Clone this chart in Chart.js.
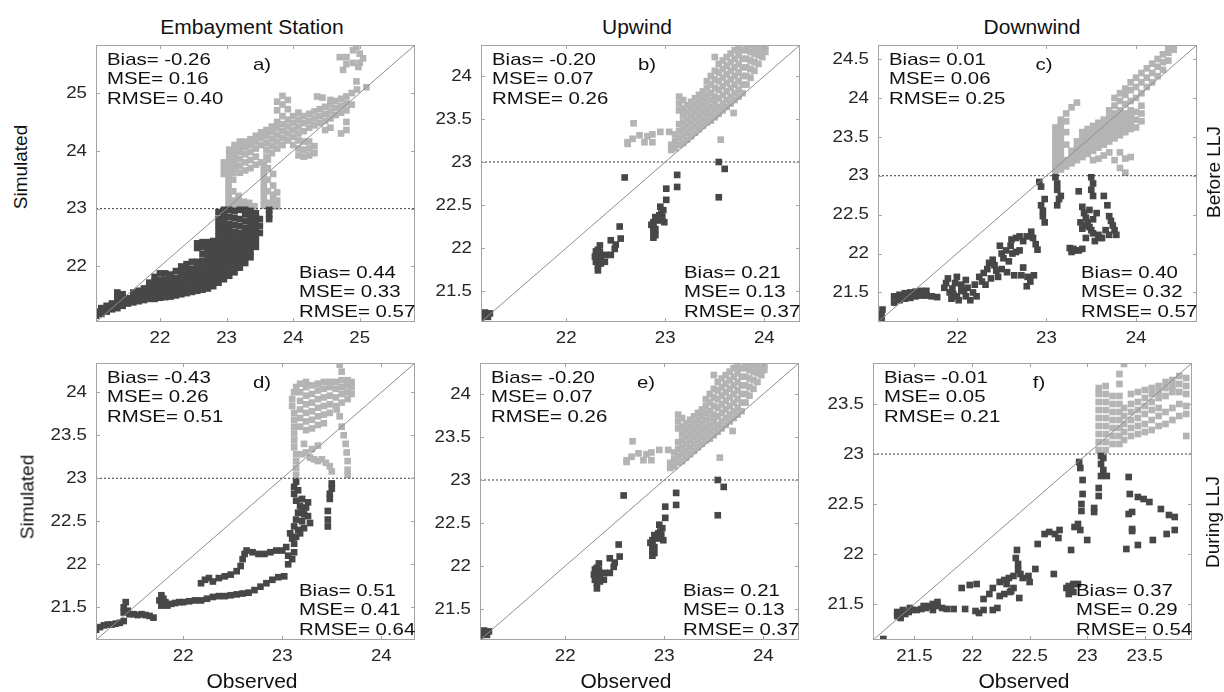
<!DOCTYPE html>
<html>
<head>
<meta charset="utf-8">
<script src="https://cdn.jsdelivr.net/npm/chart.js@4.4.1/dist/chart.umd.min.js"></script>
<style>
  body { margin: 0; background: #fff; }
  #figure { position: relative; width: 1224px; height: 692px; background: #fff; overflow: hidden;
            font-family: "Liberation Sans", Arial, sans-serif; color: #111; }
  #figure canvas { position: absolute; }
  .lbl { position: absolute; white-space: nowrap; transform: translate(-50%, -50%); line-height: 1; }
  .rot { transform: translate(-50%, -50%) rotate(-90deg); }
</style>
</head>
<body>
<div id="figure"></div>
<script>
// ---- labels ----
const columnTitles = ['Embayment Station', 'Upwind', 'Downwind'];
const rowTitles = ['Before LLJ', 'During LLJ'];
const yTitle = 'Simulated';
const xTitle = 'Observed';
const panelLetters = ['a)', 'b)', 'c)', 'd)', 'e)', 'f)'];

// ---- axes (same range on x and y, 1:1 line runs corner to corner) ----
const axisRanges = [[21.04, 25.83], [21.14, 24.36], [21.12, 24.68], [21.12, 24.34], [21.14, 24.36], [21.14, 23.91]];
const xTickValues = [[22, 23, 24, 25], [22, 23, 24], [22, 23, 24], [22, 23, 24], [22, 23, 24], [21.5, 22, 22.5, 23, 23.5]];
const yTickValues = [
  [22, 23, 24, 25],
  [21.5, 22, 22.5, 23, 23.5, 24],
  [21.5, 22, 22.5, 23, 23.5, 24, 24.5],
  [21.5, 22, 22.5, 23, 23.5, 24],
  [21.5, 22, 22.5, 23, 23.5, 24],
  [21.5, 22, 22.5, 23, 23.5]
];
const threshold = 23;

// ---- error statistics (above / below threshold) ----
const statsAbove = [
  ['Bias= -0.26', 'MSE= 0.16', 'RMSE= 0.40'],
  ['Bias= -0.20', 'MSE= 0.07', 'RMSE= 0.26'],
  ['Bias= 0.01', 'MSE= 0.06', 'RMSE= 0.25'],
  ['Bias= -0.43', 'MSE= 0.26', 'RMSE= 0.51'],
  ['Bias= -0.20', 'MSE= 0.07', 'RMSE= 0.26'],
  ['Bias= -0.01', 'MSE= 0.05', 'RMSE= 0.21']
];
const statsBelow = [
  ['Bias= 0.44', 'MSE= 0.33', 'RMSE= 0.57'],
  ['Bias= 0.21', 'MSE= 0.13', 'RMSE= 0.37'],
  ['Bias= 0.40', 'MSE= 0.32', 'RMSE= 0.57'],
  ['Bias= 0.51', 'MSE= 0.41', 'RMSE= 0.64'],
  ['Bias= 0.21', 'MSE= 0.13', 'RMSE= 0.37'],
  ['Bias= 0.37', 'MSE= 0.29', 'RMSE= 0.54']
];

// ---- observed / simulated pairs ----
const embayBeforeDark = [
  [21.04,21.15],[21.04,21.22],[21.12,21.18],[21.12,21.28],[21.20,21.22],[21.20,21.32],[21.28,21.26],[21.28,21.36],
  [21.36,21.28],[21.36,21.38],[21.36,21.48],[21.36,21.55],[21.44,21.32],[21.44,21.42],[21.44,21.52],
  [21.52,21.36],[21.52,21.45],[21.60,21.38],[21.60,21.47],[21.60,21.55],[21.68,21.40],[21.68,21.50],[21.68,21.58],
  [21.76,21.42],[21.76,21.52],[21.76,21.62],[21.84,21.44],[21.84,21.54],[21.84,21.64],[21.84,21.72],
  [21.92,21.44],[21.92,21.54],[21.92,21.64],[21.92,21.74],[21.92,21.82],
  [22.00,21.46],[22.00,21.56],[22.00,21.66],[22.00,21.76],[22.00,21.88],
  [22.08,21.47],[22.08,21.57],[22.08,21.67],[22.08,21.77],[22.08,21.88],
  [22.16,21.48],[22.16,21.58],[22.16,21.68],[22.16,21.78],[22.16,21.86],
  [22.24,21.50],[22.24,21.60],[22.24,21.70],[22.24,21.80],[22.24,21.92],
  [22.32,21.52],[22.32,21.62],[22.32,21.72],[22.32,21.82],[22.32,21.92],[22.32,22.00],
  [22.40,21.54],[22.40,21.64],[22.40,21.74],[22.40,21.84],[22.40,21.94],[22.40,22.04],
  [22.48,21.56],[22.48,21.66],[22.48,21.76],[22.48,21.86],[22.48,21.96],[22.48,22.08],
  [22.56,21.58],[22.56,21.68],[22.56,21.78],[22.56,21.88],[22.56,21.98],[22.56,22.08],[22.56,22.32],[22.56,22.40],
  [22.64,21.60],[22.64,21.70],[22.64,21.80],[22.64,21.90],[22.64,22.00],[22.64,22.10],[22.64,22.22],[22.64,22.34],[22.64,22.42],
  [22.72,21.62],[22.72,21.72],[22.72,21.82],[22.72,21.92],[22.72,22.02],[22.72,22.12],[22.72,22.22],[22.72,22.32],[22.72,22.42],
  [22.80,21.66],[22.80,21.76],[22.80,21.86],[22.80,21.96],[22.80,22.06],[22.80,22.16],[22.80,22.26],[22.80,22.36],[22.80,22.44],
  [22.88,21.72],[22.88,21.82],[22.88,21.92],[22.88,22.02],[22.88,22.12],[22.88,22.22],[22.88,22.32],[22.88,22.42],[22.88,22.52],[22.88,22.62],[22.88,22.72],[22.88,22.82],[22.88,22.94],
  [22.96,21.78],[22.96,21.88],[22.96,21.98],[22.96,22.08],[22.96,22.18],[22.96,22.28],[22.96,22.38],[22.96,22.48],[22.96,22.58],[22.96,22.68],[22.96,22.78],[22.96,22.88],[22.96,22.98],
  [23.04,21.84],[23.04,21.94],[23.04,22.04],[23.04,22.14],[23.04,22.24],[23.04,22.34],[23.04,22.44],[23.04,22.54],[23.04,22.64],[23.04,22.74],[23.04,22.86],[23.04,22.98],
  [23.12,21.90],[23.12,22.00],[23.12,22.10],[23.12,22.20],[23.12,22.30],[23.12,22.40],[23.12,22.50],[23.12,22.60],[23.12,22.72],[23.12,22.84],[23.12,22.96],
  [23.20,21.98],[23.20,22.08],[23.20,22.18],[23.20,22.28],[23.20,22.38],[23.20,22.48],[23.20,22.58],[23.20,22.70],[23.20,22.82],[23.20,22.98],
  [23.28,22.06],[23.28,22.16],[23.28,22.26],[23.28,22.36],[23.28,22.46],[23.28,22.56],[23.28,22.66],[23.28,22.78],[23.28,22.90],[23.28,22.98],
  [23.36,22.16],[23.36,22.26],[23.36,22.36],[23.36,22.46],[23.36,22.56],[23.36,22.66],[23.36,22.76],[23.36,22.86],[23.36,22.96],
  [23.44,22.34],[23.44,22.44],[23.44,22.54],[23.44,22.64],[23.44,22.74],[23.44,22.84],[23.44,22.92],
  [23.50,22.58],[23.50,22.70],[23.50,22.82],[23.64,22.82],[23.64,22.90],[23.64,22.98]
];
const embayBeforeLight = [
  [23.03,23.05],[23.03,23.15],[23.03,23.25],[23.03,23.35],[23.03,23.45],[23.03,23.55],[23.03,23.65],
  [23.10,23.04],[23.10,23.14],[23.10,23.30],[23.10,23.50],[23.10,23.62],[23.18,23.04],[23.18,23.12],[23.18,23.22],
  [23.26,23.04],[23.26,23.12],[23.34,23.04],[23.34,23.10],[23.42,23.04],
  [23.56,23.05],[23.56,23.15],[23.56,23.25],[23.56,23.35],[23.56,23.45],[23.56,23.55],[23.56,23.65],[23.56,23.75],
  [23.62,23.10],[23.62,23.30],[23.62,23.50],[23.62,23.70],[23.62,23.85],
  [23.70,23.04],[23.70,23.14],[23.70,23.24],[23.70,23.40],[23.70,23.60],[23.76,23.04],[23.76,23.14],[23.76,23.28],
  [22.96,23.60],[22.96,23.70],[22.96,23.80],[23.04,23.72],[23.04,23.82],[23.04,23.92],[23.04,24.02],
  [23.12,23.70],[23.12,23.80],[23.12,23.90],[23.12,24.00],[23.12,24.10],
  [23.20,23.62],[23.20,23.74],[23.20,23.86],[23.20,23.98],[23.20,24.08],[23.20,24.16],
  [23.28,23.66],[23.28,23.80],[23.28,23.94],[23.28,24.06],[23.28,24.16],
  [23.36,23.70],[23.36,23.84],[23.36,23.98],[23.36,24.10],[23.36,24.20],
  [23.44,23.76],[23.44,23.90],[23.44,24.04],[23.44,24.16],[23.44,24.26],
  [23.52,23.80],[23.52,24.10],[23.52,24.22],[23.52,24.32],
  [23.60,23.90],[23.60,24.02],[23.60,24.14],[23.60,24.26],[23.60,24.36],
  [23.68,23.96],[23.68,24.08],[23.68,24.20],[23.68,24.32],[23.68,24.42],
  [23.76,24.04],[23.76,24.16],[23.76,24.28],[23.76,24.40],[23.76,24.50],[23.76,24.70],[23.76,24.85],
  [23.84,24.10],[23.84,24.22],[23.84,24.34],[23.84,24.46],[23.84,24.60],[23.84,24.80],[23.84,24.95],
  [23.92,24.18],[23.92,24.30],[23.92,24.42],[23.92,24.54],[23.92,24.72],[23.92,24.88],
  [24.00,24.10],[24.00,24.24],[24.00,24.36],[24.00,24.48],[24.00,24.60],
  [24.08,23.92],[24.08,24.04],[24.08,24.18],[24.08,24.30],[24.08,24.42],[24.08,24.54],[24.08,24.66],
  [24.16,23.90],[24.16,24.02],[24.16,24.16],[24.16,24.34],[24.16,24.48],[24.16,24.60],
  [24.24,23.92],[24.24,24.04],[24.24,24.16],[24.24,24.40],[24.24,24.52],[24.24,24.64],
  [24.32,23.96],[24.32,24.08],[24.32,24.44],[24.32,24.56],[24.32,24.68],[24.36,24.94],
  [24.40,24.48],[24.40,24.60],[24.40,24.72],[24.44,24.92],
  [24.48,24.36],[24.48,24.52],[24.48,24.64],[24.48,24.76],
  [24.56,24.40],[24.56,24.56],[24.56,24.68],[24.56,24.80],[24.56,24.88],
  [24.64,24.62],[24.64,24.74],[24.64,24.86],[24.72,24.30],[24.72,24.66],[24.72,24.78],[24.72,24.90],
  [24.80,24.36],[24.80,24.50],[24.80,24.70],[24.80,24.82],[24.80,24.94],[24.88,24.80],[24.88,25.00],
  [24.96,25.06],[25.10,25.10],
  [24.70,25.62],[24.80,25.62],[24.90,25.74],[24.95,25.80],[25.00,25.52],[25.00,25.68],[24.90,25.52],
  [24.75,25.40],[24.80,25.50],[24.98,25.45],[25.05,25.60],[24.95,25.20]
];

const upwindDark = [
  [21.14,21.19],[21.17,21.21],[21.20,21.23],[21.23,21.24],[21.16,21.23],[21.21,21.20],[21.18,21.25],
  [22.32,21.74],[22.32,21.80],[22.32,21.86],[22.32,21.92],[22.32,21.98],[22.34,22.03],[22.30,21.84],[22.30,21.96],
  [22.35,21.90],[22.35,21.82],[22.29,21.90],[22.34,21.95],
  [22.40,21.92],[22.45,21.92],[22.39,21.84],[22.45,22.09],[22.50,22.04],[22.49,21.99],[22.55,22.11],
  [22.54,22.25],[22.59,22.82],
  [22.88,22.12],[22.88,22.18],[22.88,22.24],[22.88,22.30],[22.90,22.36],[22.90,22.15],[22.90,22.22],[22.86,22.27],[22.89,22.20],
  [22.94,22.32],[22.97,22.36],[22.98,22.44],[22.96,22.40],[22.99,22.30],[22.95,22.48],[22.94,22.38],
  [23.01,22.56],[23.01,22.69],[23.12,22.85],[23.12,22.71],
  [23.54,23.00],[23.60,22.92],[23.54,22.59]
];
const upwindLight = [
  [22.62,23.21],[22.67,23.27],[22.68,23.45],[22.74,23.31],[22.79,23.23],[22.87,23.32],[22.87,23.23],
  [22.95,23.35],[23.04,23.35],[22.62,23.23],[22.82,23.30],[23.56,23.26],[23.69,23.57],
  [23.06,23.14],[23.06,23.20],[23.10,23.16],[23.10,23.24],[23.10,23.32],
  [23.14,23.20],[23.14,23.28],[23.14,23.36],[23.14,23.44],[23.14,23.60],[23.14,23.68],[23.14,23.76],
  [23.18,23.22],[23.18,23.30],[23.18,23.38],[23.18,23.46],[23.18,23.54],[23.18,23.62],[23.18,23.72],
  [23.22,23.26],[23.22,23.34],[23.22,23.42],[23.22,23.50],[23.22,23.58],[23.22,23.66],
  [23.26,23.30],[23.26,23.38],[23.26,23.46],[23.26,23.54],[23.26,23.62],[23.26,23.70],
  [23.30,23.34],[23.30,23.42],[23.30,23.50],[23.30,23.58],[23.30,23.66],[23.30,23.74],
  [23.34,23.38],[23.34,23.46],[23.34,23.54],[23.34,23.62],[23.34,23.70],[23.34,23.78],
  [23.38,23.42],[23.38,23.50],[23.38,23.58],[23.38,23.66],[23.38,23.74],[23.38,23.82],
  [23.42,23.46],[23.42,23.54],[23.42,23.62],[23.42,23.70],[23.42,23.78],[23.42,23.86],[23.42,23.94],
  [23.46,23.48],[23.46,23.56],[23.46,23.64],[23.46,23.72],[23.46,23.80],[23.46,23.90],[23.46,24.00],
  [23.50,23.52],[23.50,23.60],[23.50,23.68],[23.50,23.76],[23.50,23.86],[23.50,23.96],[23.50,24.06],[23.50,24.22],
  [23.54,23.56],[23.54,23.64],[23.54,23.74],[23.54,23.84],[23.54,23.94],[23.54,24.04],[23.54,24.14],
  [23.58,23.60],[23.58,23.68],[23.58,23.78],[23.58,23.88],[23.58,23.98],[23.58,24.08],[23.58,24.18],
  [23.62,23.64],[23.62,23.72],[23.62,23.82],[23.62,23.92],[23.62,24.02],[23.62,24.12],[23.62,24.22],
  [23.66,23.68],[23.66,23.76],[23.66,23.86],[23.66,23.96],[23.66,24.06],[23.66,24.16],[23.66,24.26],
  [23.70,23.72],[23.70,23.80],[23.70,23.90],[23.70,24.00],[23.70,24.10],[23.70,24.20],[23.70,24.30],
  [23.74,23.76],[23.74,23.84],[23.74,23.94],[23.74,24.04],[23.74,24.14],[23.74,24.24],[23.74,24.32],
  [23.78,23.80],[23.78,23.90],[23.78,24.00],[23.78,24.10],[23.78,24.20],[23.78,24.30],
  [23.82,23.90],[23.82,24.00],[23.82,24.10],[23.82,24.20],[23.82,24.30],[23.82,24.36],
  [23.86,23.98],[23.86,24.08],[23.86,24.18],[23.86,24.28],[23.86,24.36],
  [23.90,24.06],[23.90,24.16],[23.90,24.26],[23.90,24.34],[23.94,24.14],[23.94,24.24],[23.94,24.32],
  [23.98,24.22],[23.98,24.30],[24.01,24.28],[24.01,24.34]
];

const downBeforeDark = [
  [21.16,21.14],[21.16,21.22],[21.17,21.28],
  [21.30,21.37],[21.30,21.45],[21.36,21.40],[21.36,21.47],[21.42,21.42],[21.42,21.49],[21.48,21.43],[21.48,21.50],
  [21.54,21.45],[21.54,21.51],[21.60,21.46],[21.60,21.52],[21.66,21.46],[21.66,21.52],[21.72,21.45],[21.78,21.44],
  [21.88,21.62],[21.90,21.68],[21.95,21.55],[21.98,21.62],[22.00,21.45],[22.05,21.52],[22.05,21.60],[22.10,21.45],
  [22.12,21.56],[22.15,21.40],[22.18,21.50],[22.20,21.60],[22.22,21.45],[22.10,21.66],[21.92,21.50],[22.00,21.70],
  [21.86,21.56],[21.94,21.42],[22.02,21.40],[22.08,21.52],[21.96,21.48],
  [22.25,21.70],[22.30,21.75],[22.34,21.80],[22.36,21.88],[22.40,21.92],[22.42,21.85],[22.44,21.78],[22.28,21.64],
  [22.32,21.60],[22.38,21.68],[22.46,21.70],[22.48,22.10],[22.52,21.94],
  [22.50,22.00],[22.55,22.04],[22.60,22.10],[22.62,22.00],[22.66,22.02],[22.70,22.04],[22.58,21.90],[22.50,21.80],
  [22.56,21.76],[22.64,21.72],[22.72,21.72],[22.74,21.82],
  [22.61,22.18],[22.66,22.20],[22.70,22.22],[22.74,22.16],[22.78,22.22],
  [22.83,22.28],[22.85,22.20],[22.88,22.12],[22.90,22.05],
  [22.79,21.70],[22.82,21.64],[22.78,21.58],[22.86,21.72],
  [22.92,22.92],[22.94,22.86],[22.94,22.62],[22.96,22.48],[22.96,22.55],[22.98,22.40],[22.98,22.70],
  [23.10,22.98],[23.12,22.90],[23.12,22.82],[23.14,22.70],[23.12,22.62],[23.16,22.74],
  [23.26,22.07],[23.30,22.06],[23.32,22.04],[23.28,22.02],[23.36,22.04],[23.40,22.06],
  [23.36,22.80],[23.40,22.60],[23.42,22.52],[23.44,22.46],[23.46,22.40],[23.48,22.34],[23.50,22.30],[23.52,22.26],
  [23.40,22.32],[23.44,22.36],[23.52,22.44],[23.56,22.52],[23.48,22.56],[23.38,22.40],[23.58,22.24],[23.60,22.20],
  [23.44,22.20],[23.54,22.16],
  [23.50,22.98],[23.52,22.90],[23.50,22.82],[23.52,22.74],
  [23.64,22.74],[23.68,22.62],[23.72,22.42],[23.74,22.36],[23.76,22.30],[23.78,22.24],[23.70,22.48],[23.62,22.20],
  [23.66,22.30],[23.70,22.24]
];
const downBeforeLight = [
  [23.10,23.06],[23.10,23.14],[23.10,23.22],[23.10,23.30],[23.10,23.38],[23.10,23.46],[23.10,23.54],[23.10,23.62],
  [23.16,23.08],[23.16,23.16],[23.16,23.24],[23.16,23.32],[23.16,23.40],[23.16,23.48],[23.16,23.56],[23.16,23.64],[23.16,23.72],
  [23.22,23.12],[23.22,23.20],[23.22,23.40],[23.22,23.56],[23.22,23.70],[23.22,23.80],
  [23.28,23.16],[23.28,23.24],[23.28,23.32],[23.28,23.88],
  [23.34,23.20],[23.34,23.28],[23.34,23.36],[23.34,23.44],[23.34,23.94],
  [23.40,23.24],[23.40,23.32],[23.40,23.40],[23.40,23.48],[23.40,23.56],
  [23.46,23.28],[23.46,23.36],[23.46,23.44],[23.46,23.52],[23.46,23.60],
  [23.52,23.20],[23.52,23.32],[23.52,23.40],[23.52,23.48],[23.52,23.56],[23.52,23.64],
  [23.58,23.22],[23.58,23.36],[23.58,23.44],[23.58,23.52],[23.58,23.60],[23.58,23.68],
  [23.64,23.26],[23.64,23.40],[23.64,23.48],[23.64,23.56],[23.64,23.64],[23.64,23.72],
  [23.70,23.30],[23.70,23.44],[23.70,23.52],[23.70,23.60],[23.70,23.68],[23.70,23.76],[23.70,23.84],
  [23.76,23.20],[23.76,23.48],[23.76,23.56],[23.76,23.64],[23.76,23.72],[23.76,23.80],[23.76,23.90],[23.76,24.00],
  [23.82,23.10],[23.82,23.30],[23.82,23.52],[23.82,23.60],[23.82,23.68],[23.82,23.76],[23.82,23.84],[23.82,23.96],[23.82,24.06],
  [23.88,23.04],[23.88,23.22],[23.88,23.56],[23.88,23.64],[23.88,23.72],[23.88,23.80],[23.88,23.92],[23.88,24.04],[23.88,24.12],
  [23.94,23.24],[23.94,23.60],[23.94,23.68],[23.94,23.76],[23.94,23.84],[23.94,23.96],[23.94,24.10],[23.94,24.20],
  [24.00,23.62],[24.00,23.72],[24.00,23.82],[24.00,24.00],[24.00,24.14],[24.00,24.26],
  [24.06,23.70],[24.06,23.80],[24.06,23.90],[24.06,24.06],[24.06,24.20],[24.06,24.32],
  [24.12,24.14],[24.12,24.26],[24.12,24.38],[24.18,24.20],[24.18,24.32],[24.18,24.44],
  [24.24,24.28],[24.24,24.40],[24.24,24.50],[24.30,24.36],[24.30,24.46],[24.30,24.56],
  [24.36,24.48],[24.36,24.58],[24.36,24.64],[24.42,24.62],[24.42,24.66]
];

const embayDuringDark = [
  [21.12,21.24],[21.16,21.27],[21.20,21.29],[21.24,21.30],[21.28,21.30],[21.32,21.31],[21.36,21.32],[21.40,21.34],
  [21.40,21.44],[21.40,21.50],[21.42,21.56],[21.44,21.46],[21.46,21.42],[21.50,21.42],[21.54,21.41],[21.58,21.42],
  [21.62,21.41],[21.66,21.40],[21.70,21.38],
  [21.76,21.58],[21.78,21.64],[21.80,21.60],[21.82,21.56],[21.78,21.52],
  [21.84,21.52],[21.88,21.54],[21.92,21.55],[21.96,21.56],[22.00,21.56],[22.06,21.57],[22.12,21.58],[22.18,21.58],
  [22.24,21.60],[22.30,21.62],[22.36,21.63],[22.42,21.63],[22.48,21.64],[22.54,21.65],[22.60,21.66],[22.66,21.67],
  [22.72,21.70],[22.78,21.74],[22.84,21.78],[22.90,21.82],[22.96,21.85],[23.02,21.86],
  [22.18,21.78],[22.22,21.82],[22.26,21.84],[22.30,21.80],[22.36,21.84],[22.42,21.86],[22.48,21.88],[22.54,21.92],
  [22.58,21.98],[22.60,22.06],[22.62,22.12],[22.64,22.16],[22.70,22.14],[22.76,22.12],[22.82,22.12],[22.88,22.14],
  [22.94,22.16],[23.00,22.16],[23.04,22.20],
  [23.06,22.00],[23.06,22.10],[23.10,22.06],[23.12,22.14],[23.12,22.24],[23.14,22.32],[23.10,22.30],[23.16,22.40],[23.08,22.36],
  [23.12,22.44],[23.14,22.52],[23.16,22.60],[23.18,22.68],[23.14,22.74],[23.12,22.82],[23.12,22.90],[23.14,22.96],
  [23.20,22.50],[23.22,22.58],[23.24,22.66],[23.26,22.72],[23.20,22.76],[23.26,22.56],[23.28,22.48],[23.22,22.42],
  [23.18,22.36],[23.20,22.62],[23.16,22.86],
  [23.46,22.44],[23.46,22.52],[23.46,22.62],[23.48,22.82],[23.50,22.88],[23.50,22.94],[23.48,22.76]
];
const embayDuringLight = [
  [23.14,23.04],[23.14,23.12],[23.14,23.20],[23.14,23.28],[23.12,23.36],[23.12,23.44],[23.12,23.52],[23.12,23.60],
  [23.12,23.68],[23.12,23.76],[23.10,23.84],[23.10,23.92],[23.12,24.00],[23.14,24.06],
  [23.18,23.60],[23.18,23.70],[23.18,23.80],[23.18,23.90],[23.18,24.00],[23.18,24.10],
  [23.24,23.56],[23.24,23.66],[23.24,23.76],[23.24,23.86],[23.24,23.96],[23.24,24.06],[23.24,24.12],
  [23.30,23.58],[23.30,23.68],[23.30,23.78],[23.30,23.88],[23.30,23.98],[23.30,24.08],
  [23.36,23.62],[23.36,23.72],[23.36,23.82],[23.36,23.92],[23.36,24.02],[23.36,24.10],
  [23.42,23.64],[23.42,23.74],[23.42,23.84],[23.42,23.94],[23.42,24.04],[23.42,24.12],
  [23.48,23.76],[23.48,23.86],[23.48,23.96],[23.48,24.06],[23.48,24.12],
  [23.54,23.84],[23.54,23.94],[23.54,24.04],[23.54,24.12],[23.60,23.88],[23.60,23.98],[23.60,24.06],[23.60,24.14],
  [23.66,23.92],[23.66,24.00],[23.66,24.08],[23.66,24.14],[23.70,23.98],[23.70,24.06],[23.70,24.12],
  [23.58,23.72],[23.60,23.60],[23.62,23.50],[23.64,23.40],[23.65,23.30],[23.66,23.20],[23.66,23.10],[23.66,23.04],[23.55,23.80],
  [23.24,23.30],[23.28,23.24],[23.32,23.22],[23.36,23.20],[23.40,23.22],[23.44,23.18],[23.48,23.14],[23.50,23.08],
  [23.30,23.34],[23.36,23.38],[23.20,23.28],[23.22,23.40],
  [23.58,24.32],[23.60,24.24]
];

const downDuringDark = [
  [21.23,21.15],
  [21.35,21.38],[21.35,21.42],[21.38,21.40],[21.40,21.44],[21.42,21.40],[21.45,21.42],[21.48,21.44],[21.52,21.44],
  [21.56,21.45],[21.60,21.46],[21.63,21.48],[21.66,21.50],[21.70,21.48],[21.74,21.46],[21.78,21.45],[21.66,21.44],
  [21.58,21.48],[21.70,21.52],[21.38,21.36],[21.46,21.46],
  [21.84,21.45],[21.94,21.45],[21.91,21.66],[21.98,21.69],[22.04,21.70],
  [22.03,21.43],[22.06,21.41],[22.10,21.44],[22.10,21.55],[22.15,21.60],[22.18,21.66],
  [22.18,21.44],[22.22,21.46],[22.24,21.58],[22.28,21.60],[22.30,21.70],[22.33,21.62],[22.36,21.66],
  [22.24,21.72],[22.28,21.74],[22.32,21.76],[22.36,21.78],[22.40,21.84],[22.40,21.90],[22.42,21.80],[22.44,21.76],
  [22.38,21.96],[22.39,22.04],[22.41,21.56],[22.34,21.63],
  [22.49,21.78],[22.50,21.72],[22.55,21.85],[22.57,22.10],
  [22.63,22.20],[22.67,22.22],[22.72,22.20],[22.76,22.24],[22.75,22.16],[22.71,21.80],
  [22.86,22.04],[22.89,22.27],[22.92,22.30],
  [22.84,21.60],[22.86,21.65],[22.88,21.70],[22.84,21.68],[22.88,21.62],[22.82,21.66],[22.92,21.70],
  [22.93,22.92],[22.94,22.86],[22.96,22.74],[22.96,22.60],[22.95,22.50],[22.95,22.43],[22.94,22.24],[23.00,22.14],
  [23.06,22.46],[23.06,22.42],
  [23.12,22.98],[23.12,22.90],[23.14,22.84],[23.12,22.78],[23.10,22.66],[23.10,22.58],[23.14,22.96],[23.17,22.78],
  [23.36,22.77],[23.37,22.60],[23.39,22.42],[23.44,22.57],[23.49,22.55],[23.54,22.52],[23.64,22.45],[23.71,22.39],
  [23.76,22.37],[23.36,22.40],[23.39,22.25],[23.39,22.23],[23.34,22.05],[23.44,22.09],[23.57,22.14],[23.69,22.20],
  [23.76,22.24]
];
const downDuringLight = [
  [23.10,23.04],[23.10,23.12],[23.10,23.20],[23.10,23.28],[23.10,23.36],[23.10,23.44],[23.10,23.52],[23.10,23.60],[23.10,23.66],
  [23.16,23.04],[23.16,23.12],[23.16,23.20],[23.16,23.28],[23.16,23.36],[23.16,23.44],[23.16,23.52],[23.16,23.60],[23.16,23.68],
  [23.22,23.10],[23.22,23.18],[23.22,23.26],[23.22,23.34],[23.22,23.42],[23.22,23.50],[23.22,23.58],
  [23.28,23.10],[23.28,23.18],[23.28,23.26],[23.28,23.34],[23.28,23.42],[23.28,23.50],[23.28,23.58],[23.28,23.70],[23.28,23.80],
  [23.32,23.14],[23.32,23.22],[23.32,23.30],[23.32,23.38],[23.32,23.46],[23.32,23.90],
  [23.38,23.18],[23.38,23.26],[23.38,23.34],[23.38,23.42],[23.38,23.50],[23.38,23.60],
  [23.44,23.20],[23.44,23.28],[23.44,23.36],[23.44,23.44],[23.44,23.52],[23.44,23.62],
  [23.50,23.22],[23.50,23.30],[23.50,23.40],[23.50,23.48],[23.50,23.56],[23.50,23.64],
  [23.56,23.24],[23.56,23.34],[23.56,23.44],[23.56,23.52],[23.56,23.60],[23.56,23.66],
  [23.62,23.28],[23.62,23.38],[23.62,23.46],[23.62,23.56],[23.62,23.62],[23.62,23.68],
  [23.68,23.30],[23.68,23.42],[23.68,23.58],[23.68,23.66],[23.68,23.72],
  [23.74,23.34],[23.74,23.46],[23.74,23.62],[23.74,23.68],[23.74,23.74],
  [23.80,23.38],[23.80,23.50],[23.80,23.62],[23.80,23.70],[23.80,23.78],
  [23.86,23.18],[23.86,23.40],[23.86,23.48],[23.86,23.60],[23.86,23.68],[23.86,23.76]
];

const panelDark = [embayBeforeDark, upwindDark, downBeforeDark, embayDuringDark, upwindDark, downDuringDark];
const panelLight = [embayBeforeLight, upwindLight, downBeforeLight, embayDuringLight, upwindLight, downDuringLight];

// ---- layout ----
const FONT = '"Liberation Sans", Arial, sans-serif';
const DARK = '#474747';
const LIGHT = '#b4b4b4';
const PLOT_W = 319, PLOT_H = 277;
const plotBoxes = [[96, 45], [481, 45], [878, 45], [96, 363], [480, 363], [873, 363]];
const PAD_L = 60, PAD_T = 6, PAD_R = 8, PAD_B = 40;

const fig = document.getElementById('figure');

function addLabel(text, x, y, size, rotated) {
  const d = document.createElement('div');
  d.className = 'lbl' + (rotated ? ' rot' : '');
  d.textContent = text;
  d.style.left = x + 'px';
  d.style.top = y + 'px';
  d.style.fontSize = size + 'px';
  fig.appendChild(d);
}

// text widened horizontally the way the exported figure renders it
function wideText(ctx, text, px, py, align, sx) {
  ctx.save();
  ctx.translate(px, py);
  ctx.scale(sx, 1);
  ctx.textAlign = align;
  ctx.fillText(text, 0, 0);
  ctx.restore();
}

const framePlugin = {
  id: 'frame',
  afterDatasetsDraw(chart, args, opts) {
    const { ctx, chartArea: ca, scales: { x, y } } = chart;
    ctx.save();
    ctx.strokeStyle = '#a3a3a3';
    ctx.lineWidth = 1;
    ctx.strokeRect(ca.left + 0.5, ca.top + 0.5, ca.width - 1, ca.height - 1);
    ctx.beginPath();
    opts.xTicks.forEach(v => {
      const px = Math.round(x.getPixelForValue(v)) + 0.5;
      ctx.moveTo(px, ca.bottom); ctx.lineTo(px, ca.bottom - 4);
      ctx.moveTo(px, ca.top); ctx.lineTo(px, ca.top + 4);
    });
    opts.yTicks.forEach(v => {
      const py = Math.round(y.getPixelForValue(v)) + 0.5;
      ctx.moveTo(ca.left, py); ctx.lineTo(ca.left + 4, py);
      ctx.moveTo(ca.right, py); ctx.lineTo(ca.right - 4, py);
    });
    ctx.stroke();

    ctx.fillStyle = '#262626';
    ctx.font = '17px ' + FONT;
    ctx.textBaseline = 'middle';
    opts.xTicks.forEach(v => wideText(ctx, String(v), x.getPixelForValue(v), ca.bottom + 16, 'center', 1.1));
    opts.yTicks.forEach(v => wideText(ctx, String(v), ca.left - 9, y.getPixelForValue(v), 'right', 1.1));

    ctx.fillStyle = '#111';
    ctx.font = '17px ' + FONT;
    opts.above.forEach((t, i) => wideText(ctx, t, ca.left + 11, ca.top + 15 + i * 19.5, 'left', 1.2));
    opts.below.forEach((t, i) => wideText(ctx, t, ca.left + 203, ca.bottom - 49 + i * 19.5, 'left', 1.2));
    wideText(ctx, opts.letter, ca.left + 166, ca.top + 20, 'center', 1.2);
    ctx.restore();
  }
};

function makePanel(i) {
  const [left, top] = plotBoxes[i];
  const [lo, hi] = axisRanges[i];
  const canvas = document.createElement('canvas');
  canvas.width = PLOT_W + PAD_L + PAD_R;
  canvas.height = PLOT_H + PAD_T + PAD_B;
  canvas.style.left = (left - PAD_L) + 'px';
  canvas.style.top = (top - PAD_T) + 'px';
  fig.appendChild(canvas);

  const marker = { pointStyle: 'rect', pointRadius: 4.7, borderWidth: 0 };
  new Chart(canvas, {
    type: 'scatter',
    data: {
      datasets: [
        { type: 'line', data: [[lo, lo], [hi, hi]], borderColor: '#8e8e8e', borderWidth: 1, pointRadius: 0 },
        { type: 'line', data: [[lo, threshold], [hi, threshold]], borderColor: '#3a3a3a', borderWidth: 1,
          borderDash: [2, 2], pointRadius: 0 },
        Object.assign({ data: panelDark[i], backgroundColor: DARK }, marker),
        Object.assign({ data: panelLight[i], backgroundColor: LIGHT }, marker)
      ]
    },
    options: {
      responsive: false,
      animation: false,
      events: [],
      layout: { padding: { left: 0, top: PAD_T, right: PAD_R, bottom: 0 } },
      plugins: {
        legend: { display: false },
        tooltip: { enabled: false },
        frame: {
          xTicks: xTickValues[i], yTicks: yTickValues[i],
          above: statsAbove[i], below: statsBelow[i], letter: panelLetters[i]
        }
      },
      scales: {
        x: {
          type: 'linear', min: lo, max: hi,
          grid: { display: false }, border: { display: false }, ticks: { display: false },
          afterFit: s => { s.height = PAD_B; s.paddingLeft = 0; s.paddingRight = 0; }
        },
        y: {
          type: 'linear', min: lo, max: hi,
          grid: { display: false }, border: { display: false }, ticks: { display: false },
          afterFit: s => { s.width = PAD_L; s.paddingTop = 0; s.paddingBottom = 0; }
        }
      }
    },
    plugins: [framePlugin]
  });
}

for (let i = 0; i < 6; i++) makePanel(i);

// outer titles
[252, 637, 1032].forEach((cx, c) => addLabel(columnTitles[c], cx, 26, 21));
[252, 626, 1024].forEach(cx => addLabel(xTitle, cx, 680, 21));
addLabel(yTitle, 20, 167, 19, true);
addLabel(yTitle, 27, 497, 19, true);
addLabel(rowTitles[0], 1213, 172, 19, true);
addLabel(rowTitles[1], 1212, 522, 19, true);
</script>
</body>
</html>
